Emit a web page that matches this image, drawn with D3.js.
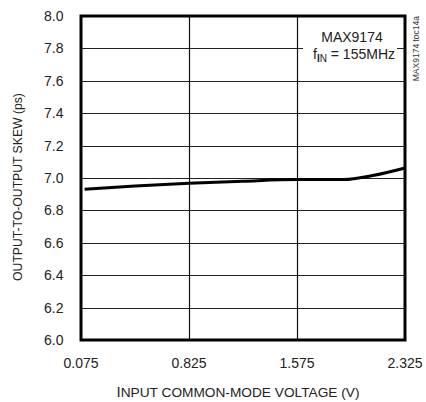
<!DOCTYPE html>
<html><head><meta charset="utf-8">
<script src="https://cdn.jsdelivr.net/npm/d3@7/dist/d3.min.js"></script>
<style>
html,body{margin:0;padding:0;background:#fff;}
svg{display:block;font-family:"Liberation Sans",Arial,sans-serif;}
</style></head>
<body>
<svg id="c" width="426" height="402"></svg>
<script>
const xTicks = [0.075, 0.825, 1.575, 2.325];
const yTicks = [6.0, 6.2, 6.4, 6.6, 6.8, 7.0, 7.2, 7.4, 7.6, 7.8, 8.0];
const vcm  = [0.1, 0.45, 0.825, 1.2, 1.575, 1.9, 2.1, 2.325];
const skew = [6.93, 6.95, 6.967, 6.98, 6.99, 6.99, 7.015, 7.062];

const svg = d3.select("#c");
const L = 81, R = 405, T = 16, B = 340;
const x = d3.scaleLinear().domain([0.075, 2.325]).range([L, R]);
const y = d3.scaleLinear().domain([6.0, 8.0]).range([B, T]);

// gridlines
svg.append("g").selectAll("line").data(yTicks.slice(1, -1)).join("line")
  .attr("x1", L).attr("x2", R).attr("y1", d => Math.round(y(d)) + 0.5).attr("y2", d => Math.round(y(d)) + 0.5)
  .attr("stroke", "#222").attr("stroke-width", 1.2);
svg.append("g").selectAll("line").data(xTicks.slice(1, -1)).join("line")
  .attr("y1", T).attr("y2", B).attr("x1", d => Math.round(x(d)) + 0.5).attr("x2", d => Math.round(x(d)) + 0.5)
  .attr("stroke", "#111").attr("stroke-width", 1.2);

// legend box (white, masks gridlines)
svg.append("rect").attr("x", 303).attr("y", T + 2).attr("width", 94).attr("height", 48).attr("fill", "#fff");
svg.append("text").attr("x", 352).attr("y", 42).attr("text-anchor", "middle")
  .attr("font-size", 14).attr("fill", "#222").text("MAX9174");
const t2 = svg.append("text").attr("x", 354).attr("y", 59).attr("text-anchor", "middle")
  .attr("font-size", 14).attr("fill", "#222");
t2.append("tspan").text("f");
t2.append("tspan").attr("dy", 3).attr("font-size", 10).attr("font-weight", "bold").text("I");
t2.append("tspan").attr("font-size", 10).text("N");
t2.append("tspan").attr("dy", -3).text(" = 155MHz");

// frame
svg.append("rect").attr("x", L).attr("y", T).attr("width", R - L).attr("height", B - T)
  .attr("fill", "none").attr("stroke", "#000").attr("stroke-width", 3);

// curve
const pts = vcm.map((v, i) => [v, skew[i]]);
svg.append("path").datum(pts)
  .attr("d", d3.line().x(d => x(d[0])).y(d => y(d[1])).curve(d3.curveMonotoneX))
  .attr("fill", "none").attr("stroke", "#000").attr("stroke-width", 3);

// y tick labels
svg.append("g").selectAll("text").data(yTicks).join("text")
  .attr("x", 63.5).attr("y", d => y(d) + 5).attr("text-anchor", "end")
  .attr("font-size", 14).attr("fill", "#222").text(d => d.toFixed(1));

// x tick labels
svg.append("g").selectAll("text").data(xTicks).join("text")
  .attr("x", d => x(d)).attr("y", 368).attr("text-anchor", "middle")
  .attr("font-size", 14).attr("fill", "#222").text(d => d.toFixed(3));

// axis titles
const xt = svg.append("text").attr("x", 238).attr("y", 397).attr("text-anchor", "middle")
  .attr("font-size", 13.7).attr("fill", "#222");
xt.append("tspan").attr("font-size", 15).text("I");
xt.append("tspan").text("NPUT COMMON-MODE VOLTAGE (V)");

svg.append("text").attr("transform", "translate(22,187) rotate(-90)").attr("text-anchor", "middle")
  .attr("font-size", 12.2).attr("fill", "#222").text("OUTPUT-TO-OUTPUT SKEW (ps)");

// side note
svg.append("text").attr("transform", "translate(419,16) rotate(-90)").attr("text-anchor", "end")
  .attr("font-size", 8.5).attr("fill", "#333").text("MAX9174 toc14a");
</script>
</body></html>
